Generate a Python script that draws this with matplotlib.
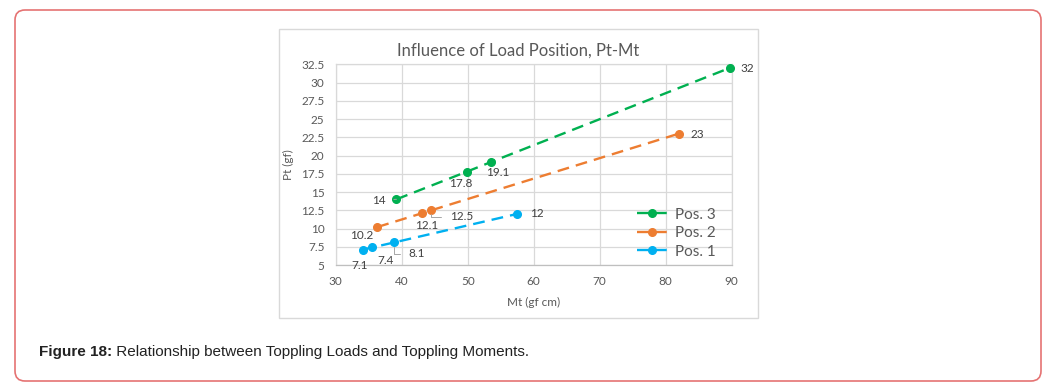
import numpy as np
import matplotlib
matplotlib.use("Agg")
import matplotlib.pyplot as plt
from matplotlib.patches import Rectangle, FancyBboxPatch
from matplotlib.transforms import IdentityTransform

# datos
pos3_mt = [39.2, 49.9, 53.5, 89.7]
pos3_pt = [14, 17.8, 19.1, 32]
pos2_mt = [36.3, 43.1, 44.5, 82.0]
pos2_pt = [10.2, 12.1, 12.5, 23]
pos1_mt = [34.1, 35.5, 38.9, 57.5]
pos1_pt = [7.1, 7.4, 8.1, 12]
pos3_lab = ["14", "17.8", "19.1", "32"]
pos2_lab = ["10.2", "12.1", "12.5", "23"]
pos1_lab = ["7.1", "7.4", "8.1", "12"]
series_names = ["Pos. 3", "Pos. 2", "Pos. 1"]

title = "Influence of Load Position, Pt-Mt"
caption_bold = "Figure 18:"
caption_rest = " Relationship between Toppling Loads and Toppling Moments."

# estilos
colores = ["#00B050", "#ED7D31", "#00B0F0"]
gris = "#595959"
px = 0.72  # 1 px en puntos a dpi 100

# desplazamientos de etiquetas en px (dx, dy hacia arriba)
off3 = [(-17.7, -0.7), (-6.3, -12.3), (6.7, -10.4), (17.3, -0.7)]
off2 = [(-15.6, -8.6), (4.4, -12.5), (30, -6.4), (18, -0.7)]
off1 = [(-3.4, -16), (13.7, -13.2), (22.4, -11.6), (19.4, 0.2)]
lideres = {("Pos. 3", 0): "arc3", ("Pos. 2", 2): "angle,angleA=0,angleB=90,rad=0",
           ("Pos. 1", 2): "angle,angleA=0,angleB=90,rad=0"}

W, H = 1049, 387
fig = plt.figure(figsize=(W / 100, H / 100), dpi=100)
plt.rcParams['font.family'] = ['Lato', 'DejaVu Sans']

# marco exterior redondeado
marco = FancyBboxPatch((15, H - 381), 1026, 371, boxstyle="round,pad=0,rounding_size=10",
                       transform=IdentityTransform(), facecolor="white",
                       edgecolor="#E57373", linewidth=1.2, zorder=-10)
fig.add_artist(marco)
# caja del grafico
caja = Rectangle((279, H - 318), 479, 289, transform=IdentityTransform(),
                 facecolor="white", edgecolor="#D9D9D9", linewidth=1, zorder=-5)
fig.add_artist(caja)

ax = fig.add_axes([335.7 / W, 122 / H, 396 / W, 200.7 / H])
ax.set_xlim(30, 90)
ax.set_ylim(5, 32.5)
ax.set_xticks(np.arange(30, 91, 10))
ax.set_yticks(np.arange(5, 32.6, 2.5))
ax.set_yticklabels([f"{v:g}" for v in np.arange(5, 32.6, 2.5)])
ax.grid(True, color="#D9D9D9", linewidth=0.9)
ax.set_axisbelow(True)
ax.tick_params(length=0, labelsize=8.5, labelcolor=gris, pad=8)
for s in ax.spines.values():
    s.set_color("#D9D9D9")
    s.set_linewidth(0.9)
ax.spines["bottom"].set_color("#BFBFBF")

series = [(pos3_mt, pos3_pt, pos3_lab, off3),
          (pos2_mt, pos2_pt, pos2_lab, off2),
          (pos1_mt, pos1_pt, pos1_lab, off1)]
for (mt, pt, lab, off), nombre, c in zip(series, series_names, colores):
    ax.plot(mt, pt, color=c, linewidth=1.7, linestyle=(0, (5, 3)), marker="o",
            markersize=5.5, label=nombre, clip_on=False, zorder=3)
    for i in range(len(mt)):
        kw = {}
        if (nombre, i) in lideres:
            kw["arrowprops"] = dict(arrowstyle="-", color="#A6A6A6", linewidth=0.7,
                                    shrinkA=4, shrinkB=3,
                                    connectionstyle=lideres[(nombre, i)])
        ax.annotate(lab[i], (mt[i], pt[i]), xytext=(off[i][0] * px, off[i][1] * px),
                    textcoords="offset points", ha="center", va="center",
                    fontsize=8.5, color="#404040", annotation_clip=False, **kw)

leg = ax.legend(loc="center left", bbox_to_anchor=(0.76, 0.159), frameon=False,
                fontsize=11, handlelength=2.0, handletextpad=0.5, borderpad=0,
                borderaxespad=0, labelspacing=0.3)
for t in leg.get_texts():
    t.set_color(gris)
for l in leg.get_lines():
    l.set_linestyle((0, (5.5, 1.6)))

ax.set_xlabel("Mt (gf cm)", fontsize=8.5, color=gris, labelpad=7)
ax.set_ylabel("Pt (gf)", fontsize=8.5, color=gris, labelpad=5)

fig.text(518 / W, 1 - 50.7 / H, title, ha="center", va="center", fontsize=12, color=gris)

# pie de figura
r = fig.canvas.get_renderer()
t1 = fig.text(39 / W, 1 - 352 / H, caption_bold, fontsize=11, fontweight="bold",
              family="Liberation Sans", va="center", ha="left", color="#222222")
bb = t1.get_window_extent(renderer=r)
fig.text(bb.x1 / W, 1 - 352 / H, caption_rest, fontsize=11, family="Liberation Sans",
         va="center", ha="left", color="#222222")

fig.savefig("out.png", dpi=100)
